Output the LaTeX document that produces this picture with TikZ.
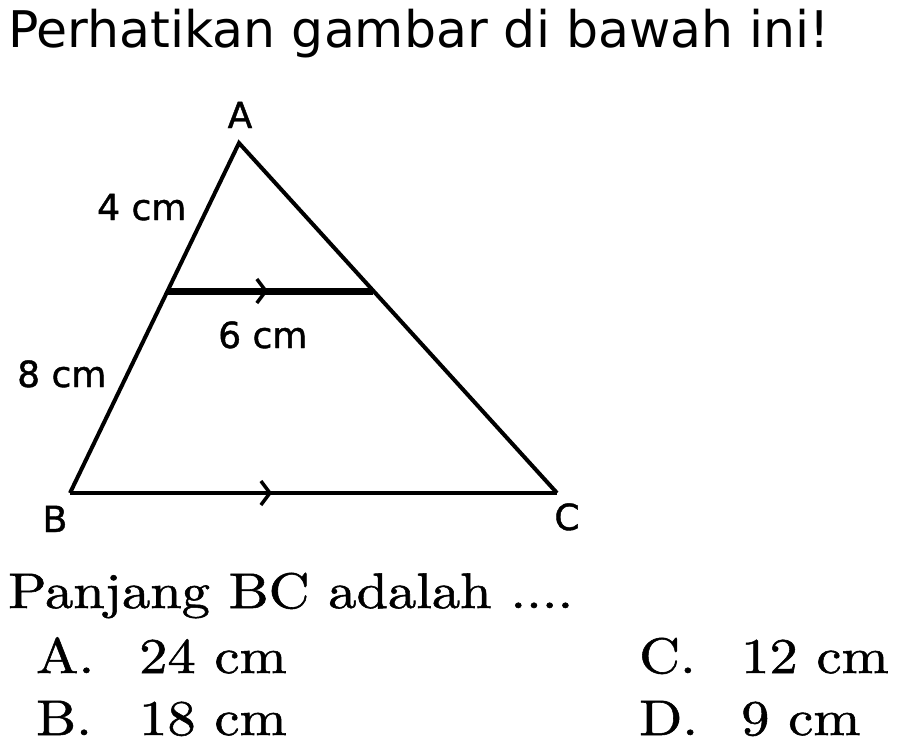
\documentclass[tikz,border=0pt]{standalone}
\usepackage{fontspec}
\newfontfamily\figfont{DejaVu Sans}
\newfontfamily\askfont{lmroman10-regular.otf}[FakeStretch=1.13, FakeBold=1.1]
\usetikzlibrary{arrows.meta, decorations.markings, calc}

\tikzset{
    side/.style = {line width=4pt},
    midline/.style = {line width=7pt},
    midarrow/.style = {postaction={decorate},
        decoration={markings, mark=at position #1 with {\arrow{Straight Barb[length=9pt, width=24pt, line width=3.5pt]}}}},
    figlabel/.style = {font=\figfont\addfontfeatures{FakeBold=1.2}\fontsize{36}{40}\selectfont, inner sep=0pt},
    headtext/.style = {font=\figfont\fontsize{50.5}{60}\selectfont, inner sep=0pt, anchor=base west},
    asktext/.style = {font=\askfont\fontsize{50}{60}\selectfont, inner sep=0pt, anchor=base west},
}

\begin{document}
\begin{tikzpicture}[x=1pt, y=-1pt]
    \useasboundingbox (0, 0) rectangle (902, 752);
    \fill[white] (0, 0) rectangle (902, 752);

    \node[headtext] (title) at (8, 48) {Perhatikan gambar di bawah ini!};

    % triangle
    \coordinate (A) at (239, 143);
    \coordinate (B) at (70, 493);
    \coordinate (C) at (557, 493);
    \coordinate (D) at ($(A)!0.4229!(B)$);
    \coordinate (E) at ($(A)!0.4229!(C)$);

    \draw[side] (B) -- (A) -- (C);
    \draw[side, midarrow=0.415] (B) -- (C);
    \draw[midline, midarrow=0.488] (D) -- (E);

    \node[figlabel, anchor=base] (labA) at (240, 128) {A};
    \node[figlabel, anchor=base] (labB) at (55, 532) {B};
    \node[figlabel, anchor=base] (labC) at (567, 530) {C};
    \node[figlabel, anchor=base west] (labAD) at (97, 220) {4 cm};
    \node[figlabel, anchor=base west] (labDE) at (218, 348) {6 cm};
    \node[figlabel, anchor=base west] (labDB) at (17, 387) {8 cm};

    % question and choices
    \node[asktext] (question) at (8, 608) {Panjang BC adalah ....};
    \node[asktext] (keyA) at (36, 673) {A.};
    \node[asktext] (ansA) at (139, 673) {24 cm};
    \node[asktext] (keyB) at (36, 735) {B.};
    \node[asktext] (ansB) at (139, 735) {18 cm};
    \node[asktext] (keyC) at (639, 673) {C.};
    \node[asktext] (ansC) at (741, 673) {12 cm};
    \node[asktext] (keyD) at (639, 735) {D.};
    \node[asktext] (ansD) at (741, 735) {9 cm};
\end{tikzpicture}
\end{document}
